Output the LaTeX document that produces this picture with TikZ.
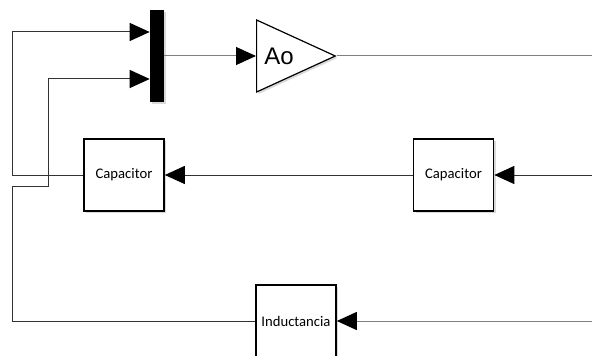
\documentclass[tikz,border=0pt]{standalone}
\usepackage{fontspec}
\setmainfont{Carlito}
\newfontfamily\gainfont{Liberation Sans}
\usetikzlibrary{shapes.geometric, arrows.meta, shadows, calc}

\begin{document}
\begin{tikzpicture}[
    x=0.75pt, y=-0.75pt,
    block/.style={rectangle, draw, line width=1.2pt, fill=white, minimum width=60pt, minimum height=54pt, inner sep=0pt, font=\fontsize{11}{13}\selectfont, drop shadow={shadow xshift=1.5pt, shadow yshift=-1.5pt, opacity=0.3}},
    muxbar/.style={rectangle, fill=black, minimum width=10.5pt, minimum height=69pt, inner sep=0pt, drop shadow={shadow xshift=1.2pt, shadow yshift=-1.2pt, opacity=0.3}},
    gainbox/.style={isosceles triangle, isosceles triangle stretches, draw, line width=0.9pt, fill=white, minimum width=54pt, minimum height=59pt, inner sep=0pt, drop shadow={shadow xshift=1.5pt, shadow yshift=-1.5pt, opacity=0.3}},
    wire/.style={line width=0.75pt, draw=black!80},
    greywire/.style={line width=0.75pt, draw=black!50},
    arrow/.style={-{Triangle[length=15pt, width=13.5pt, color=black]}}
]
\useasboundingbox (0,0) rectangle (592,356);

% blocks
\node[muxbar] (mux) at (157,56) {};
\node[gainbox, anchor=lower side] (gain) at (256,56) {};
\node[anchor=west, inner sep=0pt, font=\gainfont\fontsize{18}{20}\selectfont] (gaintxt) at (264,56) {Ao};
\node[block] (capL) at (124,175) {Capacitor};
\node[block] (capR) at (453.5,175) {Capacitor};
\node[block] (ind) at (296,321) {Inductancia};

% free ends and bends
\coordinate (out) at (592,56);
\coordinate (inR) at (592,175);
\coordinate (inL) at (592,321);
\coordinate (b1) at (12,32);
\coordinate (b2) at (12,186);
\coordinate (b3) at (48,79);

% forward path
\draw[greywire, arrow] (mux.east) -- (gain.lower side);
\draw[greywire] (gain.apex) -- (out);

% capacitor chain
\draw[wire, arrow] (inR) -- (capR.east);
\draw[wire, arrow] (capR.west) -- (capL.east);
\draw[greywire, arrow] (inL) -- (ind.east);

% feedback into the mux
\draw[wire, arrow] (ind.west) -| (b2) -| (b3) -- (b3 -| mux.west);
\draw[wire, arrow] (capL.west) -| (b1) -- (b1 -| mux.west);
\end{tikzpicture}
\end{document}
